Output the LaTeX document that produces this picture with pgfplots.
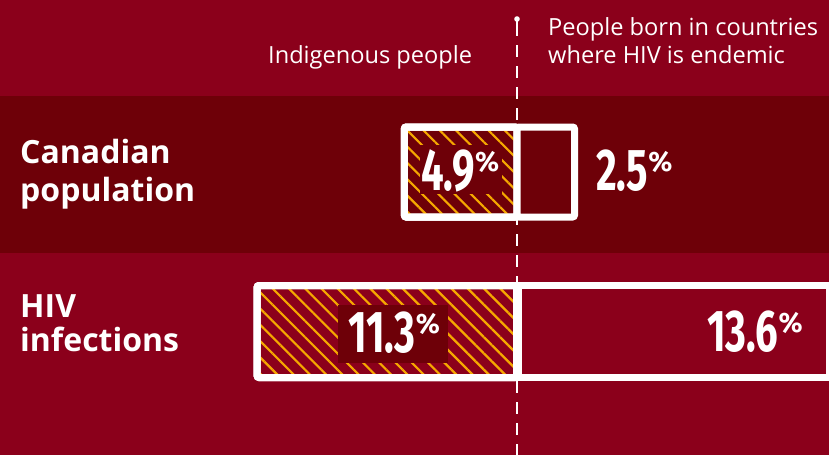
\documentclass[border=0pt]{standalone}
\usepackage{pgfplots}
\pgfplotsset{compat=1.18}
\usepackage{fontspec}
\setmainfont{Open Sans}
\newfontfamily\numfont[FakeStretch=0.68]{Fira Sans}
\newfontfamily\pctfont{Fira Sans}
\usetikzlibrary{patterns.meta}
\definecolor{bg}{HTML}{8B001B}
\definecolor{band}{HTML}{6E0008}
\definecolor{hatch}{HTML}{F5A800}
\newcommand\pct[1]{{\numfont\bfseries\fontsize{59}{59}\selectfont #1}\raisebox{19pt}{\pctfont\bfseries\fontsize{28}{28}\selectfont\%}}
\begin{document}
\begin{tikzpicture}
\fill[bg] (0,0) rectangle (829pt,455pt);
\begin{axis}[at={(0,0)}, anchor=south west, width=829pt, height=455pt, scale only axis, hide axis,
  xmin=-22.478, xmax=13.565, ymin=0, ymax=455, y dir=reverse]
\fill[band] (axis cs:-22.478,96) rectangle (axis cs:13.565,253);
\draw[white, line width=1.5pt, dash pattern=on 12pt off 9pt] (axis cs:0,24) -- (axis cs:0,455);
\draw[white, line width=1.5pt] (axis cs:0,19) -- (axis cs:0,30);
\fill[white] (axis cs:0,19) circle (2.8pt);
% Canadian population
\addplot[xbar, bar width=90, bar shift=0, draw=white, line width=7pt, fill=none, rounded corners=2pt,
  preaction={fill=band}, preaction={pattern={Lines[angle=-45,distance=11.5pt,line width=2.2pt]}, pattern color=hatch}]
  coordinates {(-4.9,172)};
\addplot[xbar, bar width=90, bar shift=0, draw=white, line width=7pt, fill=band, rounded corners=2pt]
  coordinates {(2.5,172)};
% HIV infections
\addplot[xbar, bar width=92, bar shift=0, draw=white, line width=7pt, fill=none, rounded corners=2pt,
  preaction={fill=bg}, preaction={pattern={Lines[angle=-45,distance=11.5pt,line width=2.2pt]}, pattern color=hatch}]
  coordinates {(-11.3,331.5)};
\addplot[xbar, bar width=92, bar shift=0, draw=white, line width=7pt, fill=bg]
  coordinates {(13.6,331.5)};
\draw[white, line width=9pt] (axis cs:0,282) -- (axis cs:0,381);
% label boxes
\fill[band] (axis cs:-4.217,145) rectangle (axis cs:-0.652,194);
\fill[band] (axis cs:-7.783,305) rectangle (axis cs:-3.0,363);
% value labels
\node[anchor=base west, inner sep=0, text=white] at (axis cs:-4.174,190) {\pct{4.9}};
\node[anchor=base west, inner sep=0, text=white] at (axis cs:3.435,190) {\pct{2.5}};
\node[anchor=base west, inner sep=0, text=white] at (axis cs:-7.348,352) {\pct{11.3}};
\node[anchor=base west, inner sep=0, text=white] at (axis cs:8.261,351) {\pct{13.6}};
% headers
\node[anchor=base west, inner sep=0, text=white, font=\fontsize{23.6}{23.6}\selectfont] at (axis cs:-10.826,63) {Indigenous people};
\node[anchor=base west, inner sep=0, text=white, font=\fontsize{23.6}{23.6}\selectfont] at (axis cs:1.348,35) {People born in countries};
\node[anchor=base west, inner sep=0, text=white, font=\fontsize{23.6}{23.6}\selectfont] at (axis cs:1.348,63) {where HIV is endemic};
% row labels
\node[anchor=base west, inner sep=0, text=white, font=\bfseries\fontsize{32}{32}\selectfont] at (axis cs:-21.609,163) {Canadian};
\node[anchor=base west, inner sep=0, text=white, font=\bfseries\fontsize{32}{32}\selectfont] at (axis cs:-21.609,201) {population};
\node[anchor=base west, inner sep=0, text=white, font=\bfseries\fontsize{32}{32}\selectfont] at (axis cs:-21.609,317) {HIV};
\node[anchor=base west, inner sep=0, text=white, font=\bfseries\fontsize{32}{32}\selectfont] at (axis cs:-21.609,351) {infections};
\end{axis}
\pgfresetboundingbox
\path[use as bounding box] (0,0) rectangle (829pt,455pt);
\end{tikzpicture}
\end{document}
